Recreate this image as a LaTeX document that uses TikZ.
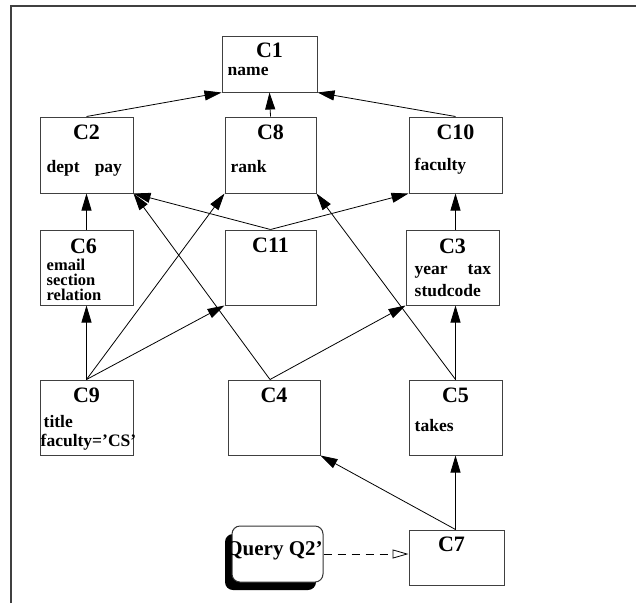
\documentclass[tikz,border=0pt]{standalone}
\usepackage{fontspec}
\setmainfont{Liberation Serif}
\usetikzlibrary{shadows}
\usetikzlibrary{positioning}
\usetikzlibrary{arrows.meta,calc}

\begin{document}
\begin{tikzpicture}[x=1pt, y=-1pt,
  cbox/.style={draw=black!75, line width=1pt, inner sep=0pt, minimum width=93pt, minimum height=76pt},
  ctitle/.style={font=\fontsize{22}{22}\selectfont\bfseries, anchor=base, inner sep=0pt},
  cattr/.style={font=\fontsize{17.5}{17.5}\selectfont\bfseries, anchor=base west, inner sep=0pt, align=left},
  arr/.style={-{Triangle[length=17pt,width=10pt]}, line width=0.8pt},
  qarr/.style={-{Triangle[open,length=16pt,width=9pt]}, line width=0.8pt, dash pattern=on 8pt off 6pt}]

	\useasboundingbox (0,0) rectangle (636,603);
	\draw[line width=1.5pt, black!75] (11,603) -- (11,6) -- (636,6);

	% boxes
	\node[cbox, minimum width=95pt, minimum height=56pt] (c1) at (269.5,64) {};
	\node[cbox] (c2) at (86.5,155) {};
	\node[cbox, minimum width=91pt] (c8) at (270.5,155) {};
	\node[cbox] (c10) at (455.5,155) {};

	\node[cbox, minimum height=75pt] (c6) at (86.5,267.5) {};
	\node[cbox, minimum width=91pt, minimum height=75pt] (c11) at (270.5,267.5) {};
	\node[cbox, minimum height=75pt] (c3) at (452.5,267.5) {};

	\node[cbox, minimum height=75pt] (c9) at (86.5,417.5) {};
	\node[cbox, minimum width=92pt, minimum height=75pt] (c4) at (274,417.5) {};
	\node[cbox, minimum height=75pt] (c5) at (455.5,417.5) {};

	\node[cbox, minimum width=95pt, minimum height=55pt] (c7) at (456.5,557.5) {};

	\node[draw=black!80, line width=1pt, fill=white, rounded corners=8pt, minimum width=91pt, minimum height=56pt,
	      drop shadow={shadow xshift=-7pt, shadow yshift=-8pt, fill=black, opacity=1}] (q) at (277.5,554) {};

	% texts
	\node[ctitle] (t1) at ([yshift=-22pt]c1.north) {C1};
	\node[cattr] (a1) at ([xshift=6pt, yshift=-40pt]c1.north west) {name};
	\node[ctitle] (t2) at ([yshift=-23pt]c2.north) {C2};
	\node[cattr] (a2) at ([xshift=7pt, yshift=-56pt]c2.north west) {dept\hspace{15pt}pay};
	\node[ctitle] (t8) at ([yshift=-23pt]c8.north) {C8};
	\node[cattr] (a8) at ([xshift=6pt, yshift=-56pt]c8.north west) {rank};
	\node[ctitle] (t10) at ([yshift=-23pt]c10.north) {C10};
	\node[cattr] (a10) at ([xshift=6pt, yshift=-54pt]c10.north west) {faculty};

	\node[ctitle] (t6) at ([xshift=-3pt, yshift=-24pt]c6.north) {C6};
	\node[cattr, font=\fontsize{16.5}{15}\selectfont\bfseries] (a6) at ([xshift=7pt, yshift=-71pt]c6.north west) {email\\section\\relation};
	\node[ctitle] (t11) at ([yshift=-23pt]c11.north) {C11};
	\node[ctitle] (t3) at ([yshift=-24pt]c3.north) {C3};
	\node[cattr, font=\fontsize{17.5}{22}\selectfont\bfseries] (a3) at ([xshift=9pt, yshift=-67pt]c3.north west) {year\hspace{20pt}tax\\studcode};

	\node[ctitle] (t9) at ([yshift=-23pt]c9.north) {C9};
	\node[cattr, font=\fontsize{17.5}{19}\selectfont\bfseries] (a9) at ([xshift=1pt, yshift=-67pt]c9.north west) {\hspace{3pt}title\\faculty='CS'};
	\node[ctitle] (t4) at ([yshift=-23pt]c4.north) {C4};
	\node[ctitle] (t5) at ([yshift=-23pt]c5.north) {C5};
	\node[cattr] (a5) at ([xshift=6pt, yshift=-52pt]c5.north west) {takes};

	\node[ctitle] (t7) at ([xshift=-5pt, yshift=-22pt]c7.north) {C7};
	\node[font=\fontsize{21}{21}\selectfont\bfseries, inner sep=0pt] (tq) at ([xshift=-3pt, yshift=3pt]q.center) {Query Q2'};

	% arrows
	\draw[arr] (c2.north) -- (c1.south west);
	\draw[arr] (c8.north) -- (c1.south);
	\draw[arr] (c10.north) -- (c1.south east);

	\draw[arr] (c6.north) -- (c2.south);
	\draw[arr] (c3.north -| c10.south) -- (c10.south);
	\draw[arr] (c11.north) -- (c2.south east);
	\draw[arr] (c11.north) -- (c10.south west);

	\draw[arr] (c9.north) -- (c6.south);
	\draw[arr] (c9.north) -- (c11.south west);
	\draw[arr] (c9.north) -- (c8.south west);

	\draw[arr] ([xshift=-4pt]c4.north) -- (c2.south east);
	\draw[arr] ([xshift=-4pt]c4.north) -- (c3.south west);

	\draw[arr] (c5.north) -- (c8.south east);
	\draw[arr] (c5.north) -- (c5.north |- c3.south);

	\draw[arr] ([xshift=-1pt]c7.north) -- (c5.south);
	\draw[arr] ([xshift=-1pt]c7.north) -- (c4.south east);

	\draw[qarr] (q.east) -- (q.east -| c7.west);

\end{tikzpicture}
\end{document}
